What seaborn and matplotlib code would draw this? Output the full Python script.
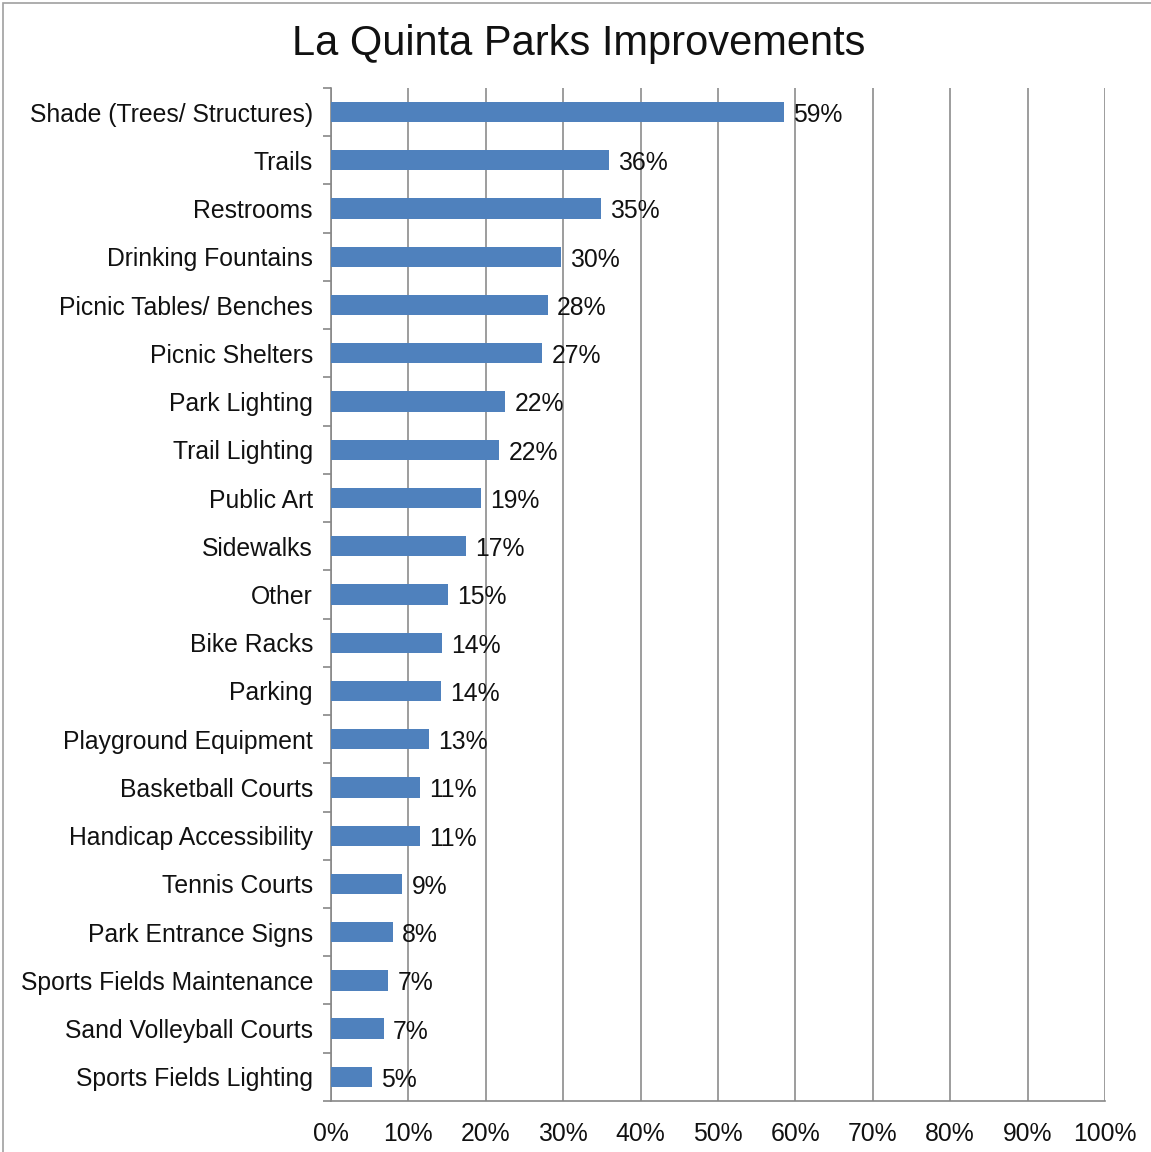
# La Quinta parks improvements - horizontal bar chart

import pandas as pd
import matplotlib.pyplot as plt
import seaborn as sns
from matplotlib.ticker import FixedLocator

categories = ["Shade (Trees/ Structures)", "Trails", "Restrooms", "Drinking Fountains",
              "Picnic Tables/ Benches", "Picnic Shelters", "Park Lighting", "Trail Lighting",
              "Public Art", "Sidewalks", "Other", "Bike Racks", "Parking",
              "Playground Equipment", "Basketball Courts", "Handicap Accessibility",
              "Tennis Courts", "Park Entrance Signs", "Sports Fields Maintenance",
              "Sand Volleyball Courts", "Sports Fields Lighting"]
values = [58.5, 35.9, 34.9, 29.7, 28.0, 27.3, 22.5, 21.7, 19.4, 17.4, 15.1,
          14.3, 14.2, 12.7, 11.5, 11.5, 9.2, 8.0, 7.4, 6.8, 5.3]
value_labels = ["59%", "36%", "35%", "30%", "28%", "27%", "22%", "22%", "19%", "17%", "15%",
                "14%", "14%", "13%", "11%", "11%", "9%", "8%", "7%", "7%", "5%"]
x_ticks = list(range(0, 101, 10))

df = pd.DataFrame({"item": categories, "pct": values})

sns.set_style("white")
plt.rcParams["font.family"] = ["Liberation Sans", "DejaVu Sans"]
plt.rcParams["text.color"] = "#111111"
plt.rcParams["xtick.labelcolor"] = "#111111"
plt.rcParams["ytick.labelcolor"] = "#111111"

fig = plt.figure(figsize=(11.51, 11.52), dpi=100)
ax = fig.add_axes([0.2876, 0.0443, 0.6724, 0.8793])

sns.barplot(data=df, x="pct", y="item", color="#4F81BD", width=0.42,
            saturation=1, linewidth=0, ax=ax, zorder=3)

for i, (v, lab) in enumerate(zip(values, value_labels)):
    ax.text(v + 1.2, i + 0.06, lab, va="center", ha="left", fontsize=17.8, zorder=4)

ax.set_xlim(0, 100)
ax.set_ylim(len(categories) - 0.5, -0.5)
ax.set_xticks(x_ticks)
ax.set_xticklabels([f"{t}%" for t in x_ticks], fontsize=17.8)
ax.tick_params(axis="y", which="major", length=0, labelsize=17.8, pad=13)
ax.tick_params(axis="x", which="major", length=6, width=1.2, color="#888888", pad=9)
ax.yaxis.set_minor_locator(FixedLocator([i - 0.5 for i in range(len(categories) + 1)]))
ax.tick_params(axis="y", which="minor", length=6, width=1.2, color="#888888", left=True)
ax.set_xlabel("")
ax.set_ylabel("")

ax.grid(axis="x", color="#8c8c8c", linewidth=1.2, zorder=0)
ax.set_axisbelow(True)
for s in ["top", "right"]:
    ax.spines[s].set_visible(False)
for s in ["left", "bottom"]:
    ax.spines[s].set_color("#888888")
    ax.spines[s].set_linewidth(1.2)

fig.suptitle("La Quinta Parks Improvements", fontsize=30, x=0.503, y=0.979)

# thin frame around the chart area like the exported image
fig.patches.append(plt.Rectangle((0.003, -0.01), 1.2, 1.007, transform=fig.transFigure,
                                 fill=False, edgecolor="#a0a0a0", linewidth=1.2))

fig.savefig("out.png", dpi=100)
